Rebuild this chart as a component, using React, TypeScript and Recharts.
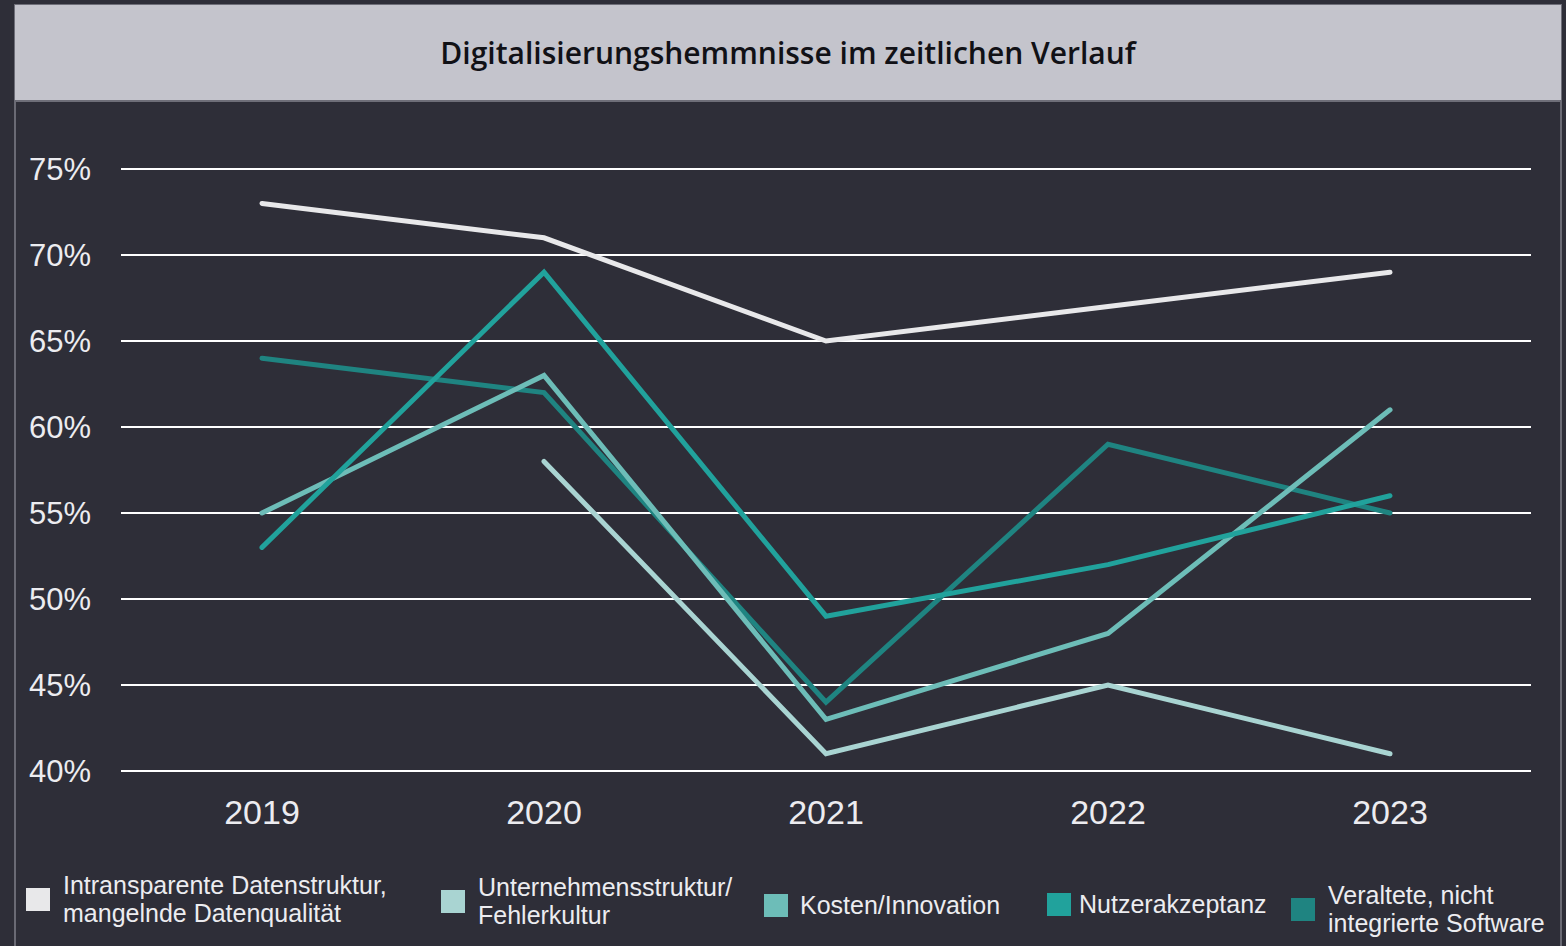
import { LineChart, Line, XAxis, YAxis, CartesianGrid } from 'recharts'

const YEARS = ['2019', '2020', '2021', '2022', '2023']
const INTRANSPARENT = [73, 71, 65, 67, 69]
const UNTERNEHMEN = [null, 58, 41, 45, 41]
const KOSTEN = [55, 63, 43, 48, 61]
const NUTZER = [53, 69, 49, 52, 56]
const VERALTET = [64, 62, 44, 59, 55]
const Y_TICKS = [40, 45, 50, 55, 60, 65, 70, 75]

const SERIES = [
  { key: 'veraltet', lines: ['Veraltete, nicht', 'integrierte Software'], color: '#1f8481', values: VERALTET },
  { key: 'kosten', lines: ['Kosten/Innovation'], color: '#6dbdb8', values: KOSTEN },
  { key: 'unternehmen', lines: ['Unternehmensstruktur/', 'Fehlerkultur'], color: '#a9d4d2', values: UNTERNEHMEN },
  { key: 'nutzer', lines: ['Nutzerakzeptanz'], color: '#21a29c', values: NUTZER },
  { key: 'intransparent', lines: ['Intransparente Datenstruktur,', 'mangelnde Datenqualität'], color: '#e8e8ea', values: INTRANSPARENT },
]

const LEGEND_ORDER = ['intransparent', 'unternehmen', 'kosten', 'nutzer', 'veraltet']

const data = YEARS.map((year, i) => {
  const row: Record<string, string | number | null> = { year }
  SERIES.forEach(s => { row[s.key] = s.values[i] })
  return row
})

const FONT = '"Liberation Sans", Arial, sans-serif'
const BG = '#2e2e38'

// legend box positions (x of square, vertical offset) and gap to text
const LEGEND_POS = [
  { left: 26, top: 871, gap: 13 },
  { left: 441, top: 873, gap: 13 },
  { left: 764, top: 891, gap: 12 },
  { left: 1047, top: 890, gap: 8 },
  { left: 1291, top: 881, gap: 13 },
]

export default function App() {
  return (
    <div style={{ position: 'absolute', left: 0, top: 0, width: 1566, height: 946, background: BG, overflow: 'hidden', fontFamily: FONT }}>
      <div style={{
        position: 'absolute', left: 14, top: 4, width: 1546, height: 95,
        background: '#c4c4cc', borderTop: '1px solid #6e6e78', borderBottom: '2px solid #6e6e78',
        borderLeft: '1px solid #6e6e78', borderRight: '1px solid #6e6e78',
        display: 'flex', alignItems: 'center', justifyContent: 'center',
        fontSize: 30, color: '#111116', fontWeight: 600, fontFamily: '"Open Sans", sans-serif',
      }}>
        Digitalisierungshemmnisse im zeitlichen Verlauf
      </div>
      <div style={{ position: 'absolute', left: 14, top: 100, width: 2, height: 846, background: '#6a6a74' }} />
      <div style={{ position: 'absolute', left: 1560, top: 100, width: 2, height: 846, background: '#6a6a74' }} />

      <div style={{ position: 'absolute', left: 0, top: 0 }}>
        <LineChart width={1566} height={860} data={data} margin={{ top: 169, right: 35, left: 0, bottom: 29 }}>
          <CartesianGrid vertical={false} stroke="#ffffff" strokeWidth={2} />
          <XAxis
            dataKey="year"
            padding={{ left: 141, right: 141 }}
            axisLine={false}
            tickLine={false}
            tickSize={0}
            tickMargin={29}
            height={60}
            tick={{ fill: '#ececf0', fontSize: 34, fontFamily: FONT }}
          />
          <YAxis
            domain={[40, 75]}
            ticks={Y_TICKS}
            tickFormatter={(v: number) => `${v}%`}
            axisLine={false}
            tickLine={false}
            tickSize={0}
            tickMargin={30}
            width={121}
            tick={{ fill: '#ececf0', fontSize: 31, fontFamily: FONT }}
          />
          {SERIES.map(s => (
            <Line
              key={s.key}
              type="linear"
              dataKey={s.key}
              stroke={s.color}
              strokeWidth={5}
              strokeLinecap="round"
              dot={false}
              activeDot={false}
              connectNulls={false}
              isAnimationActive={false}
            />
          ))}
        </LineChart>
      </div>

      {LEGEND_ORDER.map((k, i) => {
        const s = SERIES.find(x => x.key === k)!
        const pos = LEGEND_POS[i]
        return (
          <div key={k} style={{ position: 'absolute', left: pos.left, top: pos.top, display: 'flex', alignItems: 'center' }}>
            <div style={{ width: 24, height: 23, background: s.color, marginRight: pos.gap, flex: 'none' }} />
            <div style={{ color: '#ececf0', fontSize: 25, lineHeight: '28px', whiteSpace: 'nowrap' }}>
              {s.lines.map(l => <div key={l}>{l}</div>)}
            </div>
          </div>
        )
      })}
    </div>
  )
}
